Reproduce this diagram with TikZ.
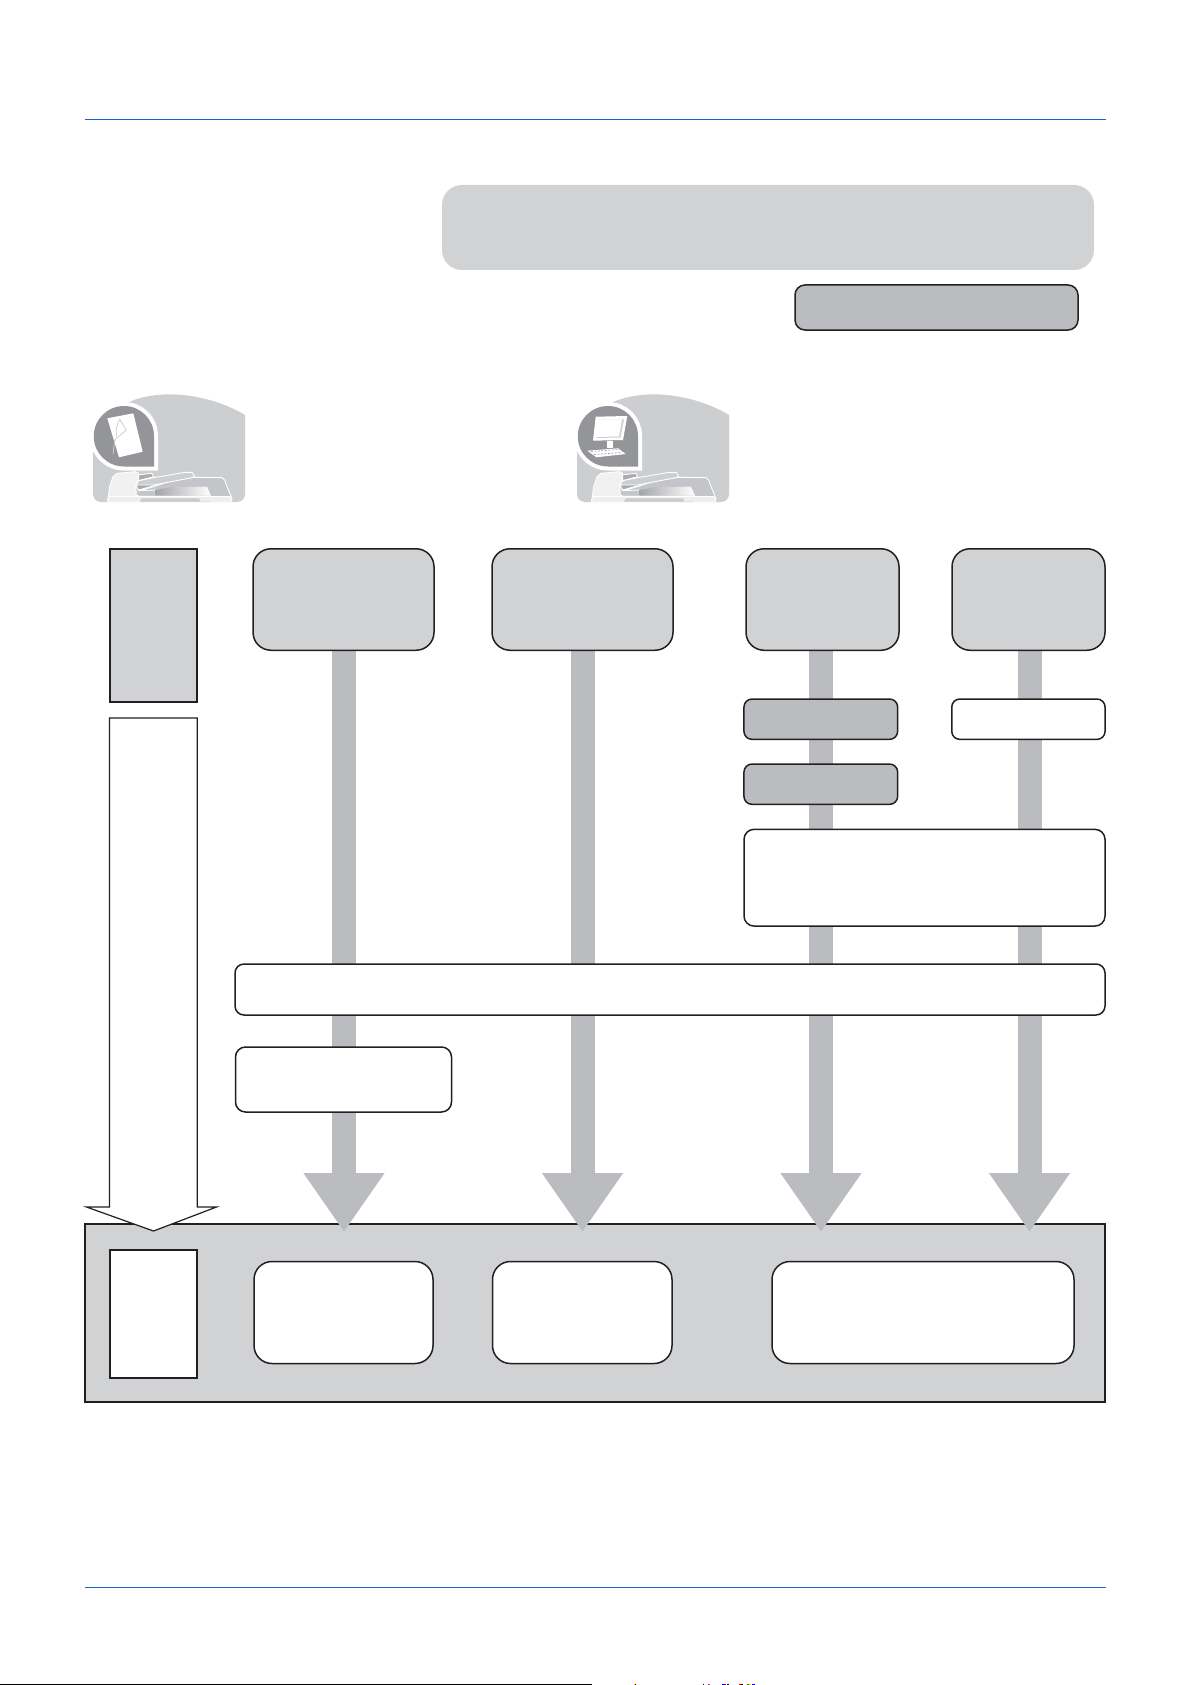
\documentclass[tikz,border=0pt]{standalone}
\usetikzlibrary{arrows.meta}
\definecolor{panelgrey}{HTML}{D1D2D4}
\definecolor{flowgrey}{HTML}{BBBCBF}
\definecolor{darkbox}{HTML}{BBBCBF}
\definecolor{icondark}{HTML}{949598}
\definecolor{iconbg}{HTML}{CDCED0}
\definecolor{rulecol}{HTML}{1464D8}
\definecolor{edgecol}{HTML}{231F20}
\tikzset{
  x=1pt,y=-1pt,
  every node/.style={inner sep=0pt,outer sep=0pt},
  rbox/.style={draw=edgecol,line width=1.5pt,rounded corners=#1},
  rbox/.default=18pt,
  sqbox/.style={draw=edgecol,line width=1.6pt},
  flowline/.style={draw=flowgrey,line width=24pt,-{Triangle[width=77pt,length=59pt,color=flowgrey]}},
  pagerule/.style={draw=rulecol,line width=1pt},
  devline/.style={draw=white,line width=.9pt,line join=round},
  device/.pic={
    \begin{scope}[x=.3333pt,y=-.3333pt,shift={(-68,-45)}]
      % dark well between feeder and glass
      \fill[icondark!55!white] (198,345) -- (205,332) -- (255,330) -- (255,345) -- cycle;
      % body
      \path[fill=iconbg!85!icondark,devline] (205,332) -- (250,320) -- (300,303) -- (370,292) -- (455,293) -- (463,300) -- (470,320) -- (485,355) -- (482,365) -- (420,365) -- (420,345) -- (255,345) -- (255,330) -- cycle;
      % glass
      \shade[left color=icondark!85!white,right color=white] (255,347) -- (255,330) -- (300,322) -- (410,320) -- (422,347) -- cycle;
      % feeder trays
      \path[fill=icondark!80!white,devline] (200,285) -- (245,280) -- (250,290) -- (205,302) -- cycle;
      \path[fill=icondark!80!white,devline] (197,315) -- (250,305) -- (248,318) -- (205,330) -- cycle;
      % paper
      \path[fill=iconbg,devline] (205,302) -- (250,293) -- (345,277) -- (365,277) -- (373,288) -- (365,293) -- (250,315) -- (197,315) -- cycle;
      % feeder
      \path[fill=white!72!iconbg,devline] (112,365) -- (118,320) -- (128,290) -- (140,280) -- (195,275) -- (205,280) -- (205,300) -- (196,315) -- (198,345) -- (208,350) -- (208,365) -- cycle;
      % front band
      \path[fill=white!65!iconbg] (115,350) -- (480,350) -- (484,365) -- (111,365) -- cycle;
      \draw[devline] (115,350) -- (480,350);
      \draw[devline] (115,350) -- (111,365);
      \draw[devline] (480,350) -- (485,365);
      \fill[icondark!50!white] (209,365) -- (214,355) -- (386,355) -- (390,365) -- cycle;
    \end{scope}
  },
  iconback/.pic={
    \fill[iconbg] (0,99) -- (0,42) -- (34,8) .. controls (65,-7) and (115,-2) .. (152,20) -- (152,99) arc[start angle=0,delta angle=-90,radius=8pt] -- (8,107) arc[start angle=270,delta angle=-90,radius=8pt] -- cycle;
    \fill[white] (31,7) arc[start angle=90,delta angle=-90,radius=34pt] -- (65,75.5) -- (31,75.5) arc[start angle=270,delta angle=-180,radius=34.25pt] -- cycle;
    \fill[white] (-4,41) -- (-4,-1) -- (36,-1) -- (36,7.3) -- (31,7) arc[start angle=90,end angle=180,radius=34pt] -- cycle;
    \fill[icondark] (31,11) arc[start angle=90,delta angle=-90,radius=30pt] -- (61,71.5) -- (31,71.5) arc[start angle=270,delta angle=-180,radius=30.25pt] -- cycle;
  }
}
\begin{document}
\begin{tikzpicture}
\useasboundingbox (0,0) rectangle (1191,1685);
\fill[white] (0,0) rectangle (1191,1685);

% page rules
\coordinate (topL) at (85,119.5); \coordinate (topR) at (1106,119.5);
\coordinate (botL) at (85,1587.5); \coordinate (botR) at (1106,1587.5);
\draw[pagerule] (topL) -- (topR);
\draw[pagerule] (botL) -- (botR);
\coordinate (edgeL) at (0,1684.4); \coordinate (edgeR) at (592,1684.4);
\draw[black,line width=1.2pt] (edgeL) -- (edgeR);
% scan specks at the lower edge
\fill[yellow!80!orange] (634,1684) rectangle (635,1685);
\fill[black] (635,1684) rectangle (636,1685);
\fill[black] (703,1684) rectangle (704,1685);
\fill[red] (708,1684) rectangle (709,1685);
\fill[cyan] (709,1684) rectangle (710,1685);
\fill[blue] (722,1684) rectangle (725,1685);
\fill[red] (725,1684) rectangle (726,1685);
\fill[black] (727,1684) rectangle (729,1685);
\fill[red] (739,1684) rectangle (741,1685);
\fill[black] (741,1684) rectangle (743,1685);
\fill[green!60!black] (747,1684) rectangle (749,1685);
\fill[yellow!80!orange] (749,1684) rectangle (751,1685);
\fill[blue] (752,1684) rectangle (755,1685);

% header boxes
\fill[panelgrey,rounded corners=20pt] (442,185) rectangle (1094,270);
\node[rbox=10pt,fill=darkbox,minimum width=283pt,minimum height=45pt] (hdr) at (936.5,307.5) {};

% icons
\pic at (93,395) {iconback};
\pic at (93,395) {device};
\fill[white] (107.3,418.3) -- (133.3,413.3) -- (142.7,451.7) -- (119,457.3) -- cycle;
\draw[iconbg,line width=.8pt,line join=round] (119.7,419.3) -- (126.3,430) -- (114.7,440) -- (113,454);
\draw[iconbg,line width=.8pt] (119.7,419.3) .. controls (116,426) and (115.5,432) .. (116.7,436);
\pic at (577,395) {iconback};
\pic at (577,395) {device};
\fill[white] (595.7,416.7) -- (627.3,416) -- (623,440) -- (593,440.7) -- cycle;
\fill[icondark!45!white] (598.5,420) -- (624,419.4) -- (620.5,437.5) -- (596.5,438) -- cycle;
\fill[white] (596.5,420) -- (622,419.4) -- (619,436.5) -- (594.5,437) -- cycle;
\fill[white] (607,441) rectangle (613,448);
\fill[white] (587.3,450.7) -- (618,448.3) -- (625.7,454) -- (596.3,457.3) -- cycle;
\draw[icondark,line width=.6pt,dash pattern=on 2pt off 1.5pt] (591,451.5) -- (618,449.5);
\draw[icondark,line width=.6pt,dash pattern=on 2pt off 1.5pt] (594,454.5) -- (622,452.5);

% bottom panel
\node[sqbox,fill=panelgrey,minimum width=1020pt,minimum height=178pt] (panel) at (595,1312.7) {};

% top-row boxes
\node[sqbox,fill=panelgrey,minimum width=87pt,minimum height=153pt] (legend) at (153.5,625.5) {};
\coordinate (t1) at (344,1232);
\coordinate (t2) at (582.5,1232);
\coordinate (t3) at (821,1232);
\coordinate (t4) at (1029.5,1232);
\node (s1) at (344,600) {};
\node (s2) at (582.5,600) {};
\node (s3) at (821,600) {};
\node (s4) at (1029.5,600) {};

% flow arrows, behind the boxes
\draw[flowline] (s1) -- (t1);
\draw[flowline] (s2) -- (t2);
\draw[flowline] (s3) -- (t3);
\draw[flowline] (s4) -- (t4);

\node[rbox,fill=panelgrey,minimum width=181pt,minimum height=101.5pt] (a1) at (343.5,599.5) {};
\node[rbox,fill=panelgrey,minimum width=181pt,minimum height=101.5pt] (a2) at (582.5,599.5) {};
\node[rbox,fill=panelgrey,minimum width=153pt,minimum height=101.5pt] (a3) at (822.5,599.5) {};
\node[rbox,fill=panelgrey,minimum width=153pt,minimum height=101.5pt] (a4) at (1028.5,599.5) {};

\node[rbox=8pt,fill=darkbox,minimum width=153.7pt,minimum height=40.3pt] (b1) at (820.8,719.2) {};
\node[rbox=8pt,fill=darkbox,minimum width=153.7pt,minimum height=40.3pt] (b2) at (820.8,784.2) {};
\node[rbox=8pt,fill=white,minimum width=153.3pt,minimum height=40.3pt] (b3) at (1028.4,719.2) {};
\node[rbox=10pt,fill=white,minimum width=361pt,minimum height=96.7pt] (c1) at (924.5,877.7) {};
\node[rbox=9pt,fill=white,minimum width=870pt,minimum height=51pt] (wide) at (670,989.5) {};
\node[rbox=10pt,fill=white,minimum width=216pt,minimum height=65pt] (d1) at (343.5,1079.5) {};

% white down arrow
\coordinate (wa1) at (109.5,718);
\coordinate (wa2) at (197.3,718);
\coordinate (wa3) at (197.3,1207);
\coordinate (wa4) at (216.5,1207);
\coordinate (wa5) at (153.5,1231);
\coordinate (wa6) at (86.5,1207);
\coordinate (wa7) at (109.5,1207);
\draw[fill=white,draw=edgecol,line width=1.2pt,line join=miter] (wa1) -- (wa2) -- (wa3) -- (wa4) -- (wa5) -- (wa6) -- (wa7) -- cycle;

% boxes in the panel
\node[sqbox,fill=white,minimum width=87.5pt,minimum height=128pt] (e0) at (153.5,1314) {};
\node[rbox,fill=white,minimum width=179pt,minimum height=102pt] (e1) at (343.5,1312.5) {};
\node[rbox,fill=white,minimum width=179.5pt,minimum height=102pt] (e2) at (582.25,1312.5) {};
\node[rbox,fill=white,minimum width=302pt,minimum height=102pt] (e3) at (923,1312.5) {};
\end{tikzpicture}
\end{document}
